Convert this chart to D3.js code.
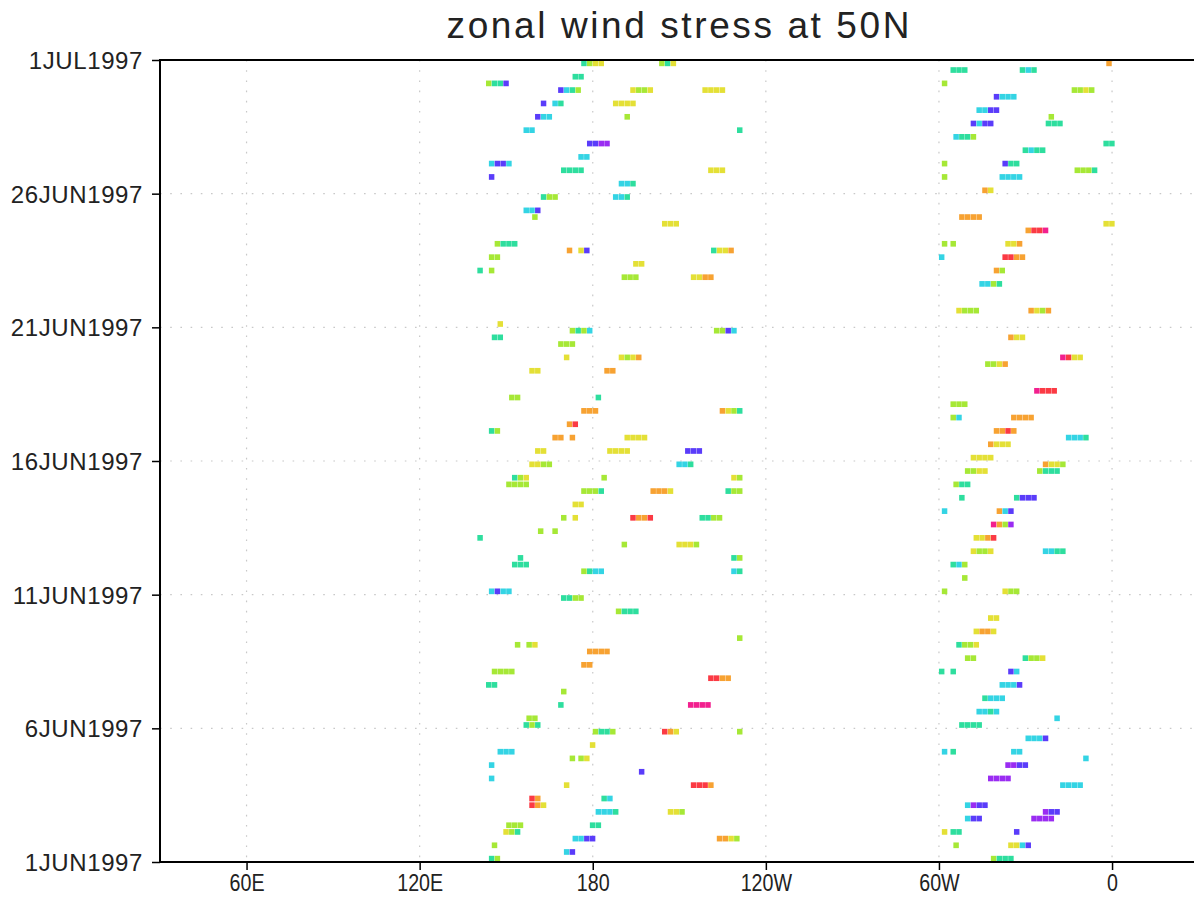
<!DOCTYPE html>
<html>
<head>
<meta charset="utf-8">
<script src="https://cdn.jsdelivr.net/npm/d3@7"></script>
<style>
  body { margin: 0; background: #fff; }
  text { font-family: "Liberation Sans", Arial, sans-serif; fill: #222; }
</style>
</head>
<body>
<svg id="chart" width="1194" height="899"></svg>
<script>
// ---- axis ticks ----
const lonTicks = [60, 120, 180, 240, 300, 360];
const lonTickLabels = ["60E", "120E", "180", "120W", "60W", "0"];
const dateTickDays = [0, 5, 10, 15, 20, 25, 30];
const dateTickLabels = ["1JUN1997", "6JUN1997", "11JUN1997", "16JUN1997", "21JUN1997", "26JUN1997", "1JUL1997"];

// ---- shading classes for zonal wind stress (N/m2) ----
const stressBreaks = [-0.12, -0.08, -0.04, 0, 0.04, 0.08, 0.12, 0.16];
const stressColors = ["#9a2cf2", "#5a3cfa", "#34d4e4", "#2ede9e", "#a6e836", "#e4e036", "#f7a232", "#fb3a44", "#f2208e"];

// ---- 6-hourly observations along 50N ----
// [step since 1JUN1997 00Z, western edge of first 2-degree box, stress of each box]
const pacificObs = [
  [119,176,[-.02,.02,.06,.06]], [117,173,[-.02,-.02]], [116,143,[.02,-.02,-.02,-.10]],
  [115,168,[-.10,-.06,-.02,.02]], [113,162,[-.10]], [113,166,[-.06,-.02]],
  [111,160,[-.10,-.06,-.06]], [109,156,[-.06,-.06]], [107,178,[-.10,-.10,-.14,-.14]],
  [105,175,[-.06,-.06]], [104,144,[-.06,-.10,-.10,-.06]], [103,169,[-.02,-.02,-.02,-.02]],
  [102,144,[-.10]], [99,162,[-.02,.02,.02]], [97,156,[-.06,-.06,-.10]], [96,159,[.02]],
  [92,146,[.02,-.02,-.02,-.02]], [91,171,[.10]], [91,175,[.06,-.10]], [90,144,[.02,.02]],
  [88,140,[-.02]], [88,144,[.02]], [80,147,[.06]],
  [119,203,[.02,-.02,.06]], [115,193,[.06,.02,.02,.06]], [115,218,[.06,.06,.06,.06]],
  [113,187,[.06,.06,.06,.06]], [111,191,[.02]], [109,230,[-.02]], [103,220,[.06,.06,.06]],
  [101,189,[-.06,-.06,-.02]], [99,187,[-.06,-.06,-.02]], [95,204,[.06,.06,.06]],
  [91,221,[-.02,.06,.06,.10]], [89,194,[.06,.06]], [87,190,[.02,.02,.02]], [87,214,[.06,.06,.10,.10]],
  [79,172,[.02,-.02,.02,-.06]], [79,222,[.02,.02,-.10,-.06]], [78,145,[-.02,-.02]],
  [77,168,[.02,.02,.02]], [75,170,[.06]], [75,189,[.06,.02,.06,.10]], [73,158,[.06,.06]],
  [73,184,[.10,.10]], [69,151,[.02,.02]], [69,181,[-.02]], [67,176,[.10,.10,.10]],
  [67,224,[.10,.06,.02,-.02]], [65,171,[.10,.14]], [64,144,[-.02,.02]], [63,166,[.10,.10]],
  [63,172,[.10]], [63,191,[.06,.06,.06,.06]], [61,160,[.06,.06]], [61,185,[.06,.06,.06,.06]],
  [61,212,[-.10,-.10,-.10]], [59,158,[.06,.06,.02,.02]], [59,209,[-.06,-.06,-.02]],
  [57,152,[-.02,.02,.06]], [57,183,[.02]], [57,228,[.06,.02]], [56,150,[.02,.02,.02,.02]],
  [55,176,[.02,.02,.02,-.02]], [55,200,[.10,.10,.10,.06]], [55,226,[-.02,.02,.02]],
  [53,173,[.06,.06]], [51,169,[.02]], [51,173,[.06]], [51,193,[.14,.10,.10,.14]],
  [51,217,[-.02,-.02,.02,.02]], [49,161,[.02]], [49,166,[.02]], [48,140,[-.02]],
  [47,190,[.02]], [47,209,[.06,.06,.06,.02]], [45,154,[-.02]], [45,228,[-.02,.02]],
  [44,152,[-.02,-.02,-.02]], [43,176,[.02,-.02,-.06,-.06]], [43,228,[-.06,-.02]],
  [40,144,[-.06,-.10,-.06,-.06]], [39,169,[-.02,-.02,.02,.02]], [37,188,[.02,-.02,-.02,-.02]],
  [33,230,[.02]], [32,153,[.02]], [32,157,[.02,.06]], [31,178,[.10,.10,.10,.10]],
  [29,176,[.10,.10]], [28,145,[.02,.02,.02,.02]], [27,220,[.14,.14,.10,.10]], [26,143,[-.02,-.02]],
  [25,169,[.02]], [23,168,[-.02]], [23,213,[.18,.18,.18,.18]], [21,157,[.02,.02]],
  [20,156,[-.02,.02,-.02]], [19,180,[.02,-.02,-.02,.02]], [19,204,[.14,.10,.06]], [19,230,[.02]],
  [17,179,[.06]], [16,147,[-.06,-.06,-.06]], [15,172,[.02]], [15,175,[.02,.06]], [14,144,[-.06]],
  [13,196,[-.10]], [12,144,[-.06]], [11,170,[.06]], [11,214,[.14,.14,.14,.10]], [9,158,[.14,.10]],
  [9,183,[-.02,-.06]], [8,158,[.14,.10,.06]], [7,181,[-.06,-.06,-.06,-.02]], [7,206,[.06,.06,.02]],
  [5,150,[.02,.02,.02]], [5,179,[-.02,-.02]], [4,149,[.06,.02,-.02]], [3,173,[-.06,-.06,-.10,-.10]],
  [3,223,[.10,.10,.06,.02]], [2,145,[.02]], [1,170,[-.06,-.10]], [0,144,[-.02,.02]]
];

const atlanticObs = [
  [119,358,[.10]], [118,304,[-.02,-.02,-.02]], [118,328,[-.02,-.06,-.02]], [116,301,[.02]],
  [115,346,[.02,.02,.06,.02]], [114,319,[-.10,-.06,-.06,-.06]], [112,313,[-.06,-.06,-.10,-.10]],
  [111,338,[.02]], [110,311,[-.10,-.06,-.10,-.10]], [110,337,[-.02,-.02,-.02]],
  [108,305,[-.06,-.02,-.02,.02]], [107,357,[-.02,-.02]], [106,329,[-.02,-.06,-.02,-.02]],
  [104,301,[.02]], [104,322,[-.10,-.02,-.02]], [103,347,[.02,.02,.02,-.02]], [102,301,[.02]],
  [102,321,[-.06,-.06,-.06,-.06]], [100,315,[.10,.06]], [96,307,[.10,.10,.10,.10]],
  [95,357,[.06,.06]], [94,330,[.10,.14,.14,.18]], [92,301,[.02]], [92,304,[.02]],
  [92,323,[.06,.06,.10]], [90,300,[-.06]], [90,322,[.14,.14,.10,.10]], [88,319,[.10,.02]],
  [86,314,[-.06,-.06,.02,-.02]], [82,306,[.06,.02,.02,.02]], [82,331,[.10,.06,.02,.10]],
  [78,324,[.10,.06,.06]], [75,342,[.18,.14,.06,.06]], [74,316,[.02,.02,.06,.10]],
  [70,333,[.18,.14,.14,.14]], [68,304,[.02,.02,.02]], [66,304,[.02,-.06]], [66,325,[.10,.10,.10,.10]],
  [64,319,[.10,.10,.14,.10]], [63,344,[-.06,-.06,-.06,-.02]], [62,317,[.10,.06,.06,.06]],
  [60,311,[.06,.06,.06,.06]], [59,336,[.10,.06,.06,.02]], [58,309,[.02,.02,.06,.06]],
  [58,334,[.02,-.02,-.02,-.02]], [56,305,[.02,-.02,-.02]], [54,307,[-.02]],
  [54,326,[-.02,-.10,-.10,-.10]], [52,301,[-.06]], [52,320,[.10,-.06,-.10]],
  [50,318,[.18,.10,.02,-.14]], [48,312,[.06,.06,.10,.14]], [46,311,[.06,.02,.02,.06]],
  [46,336,[-.06,-.06,-.02,-.02]], [44,304,[-.02,-.06,.02]], [42,308,[.02]], [40,301,[.02]],
  [40,322,[.06,.02,.02]], [36,317,[.06,.06]], [34,312,[.06,.10,.10,.06]],
  [32,306,[-.02,.02,.02,.06]], [30,309,[.02,.02]], [30,329,[-.02,.02,.02,.06]],
  [28,300,[-.02]], [28,304,[-.02]], [28,324,[-.10,-.06]], [26,321,[-.06,-.06,-.06,-.10]],
  [24,315,[-.02,-.06,-.06,-.06]], [22,313,[-.06,-.06,-.02,-.06]], [21,340,[-.06]],
  [20,307,[-.02,-.02,-.02,-.02]], [18,330,[-.06,-.06,-.06,-.10]], [16,301,[-.06]], [16,304,[-.02]],
  [16,325,[-.06,-.06]], [15,350,[-.06]], [14,323,[-.14,-.14,-.10,-.10]], [12,317,[-.14,-.14,-.14,-.14]],
  [11,342,[-.06,-.06,-.06,-.06]], [8,309,[-.06,-.14,-.10,-.10]], [7,336,[-.14,-.10,-.10]],
  [6,309,[-.06,-.10,-.10]], [6,332,[-.14,-.14,-.14,-.14]], [4,301,[.06]], [4,304,[-.02,-.02]],
  [4,326,[-.10]], [2,305,[.02]], [2,324,[.06,.06,-.06,-.10]], [0,318,[.02,-.02,-.02,-.02]]
];

// ---- layout ----
const plotLeft = 160, plotTop = 60, plotBottom = 862;
const degPx = 2.885;
const plotRight = plotLeft + 360 * degPx;   // frame runs past the window edge
const boxDeg = 2;
const stepMs = 6 * 3600 * 1000;
const t0 = Date.UTC(1997, 5, 1);

const svg = d3.select("#chart");

const x = d3.scaleLinear().domain([30, 390]).range([plotLeft, plotRight]);
const y = d3.scaleUtc().domain([new Date(t0), new Date(Date.UTC(1997, 6, 1))]).range([plotBottom, plotTop]);
const color = d3.scaleThreshold().domain(stressBreaks).range(stressColors);

const dateTicks = dateTickDays.map(d => new Date(t0 + d * 864e5));

// dotted grid
const grid = svg.append("g").attr("stroke", "#c8c8c8").attr("stroke-width", 1.2)
  .attr("stroke-dasharray", "1.6,8.6");
grid.selectAll("line.v").data(lonTicks).join("line").attr("class", "v")
  .attr("x1", d => x(d)).attr("x2", d => x(d)).attr("y1", plotTop).attr("y2", plotBottom);
grid.selectAll("line.h").data(dateTicks.slice(1, -1)).join("line").attr("class", "h")
  .attr("x1", plotLeft).attr("x2", plotRight).attr("y1", d => y(d)).attr("y2", d => y(d));

// shaded boxes
const cells = [];
for (const obs of [pacificObs, atlanticObs]) {
  for (const [step, lon0, vals] of obs) {
    vals.forEach((v, i) => cells.push({ step, lon: lon0 + i * boxDeg, v }));
  }
}
const plot = svg.append("g");
plot.selectAll("rect").data(cells).join("rect")
  .attr("x", d => x(d.lon))
  .attr("width", d => x(d.lon + boxDeg) - x(d.lon) - 0.3)
  .attr("y", d => y(new Date(t0 + (d.step + 1) * stepMs)) + 0.5)
  .attr("height", d => y(new Date(t0 + d.step * stepMs)) - y(new Date(t0 + (d.step + 1) * stepMs)) - 1)
  .attr("fill", d => color(d.v));

// frame
svg.append("rect").attr("x", plotLeft).attr("y", plotTop)
  .attr("width", plotRight - plotLeft).attr("height", plotBottom - plotTop)
  .attr("fill", "none").attr("stroke", "#000").attr("stroke-width", 2);

// axes
const yAxis = d3.axisLeft(y).tickValues(dateTicks)
  .tickFormat((d, i) => dateTickLabels[i]).tickSize(8).tickPadding(9).tickSizeOuter(0);
const gy = svg.append("g").attr("transform", `translate(${plotLeft},0)`).call(yAxis);
gy.select(".domain").remove();
gy.selectAll(".tick line").attr("stroke", "#000").attr("stroke-width", 1.5);
gy.selectAll(".tick text").attr("font-size", 24).attr("dy", "0.36em")
  .attr("letter-spacing", 0.6).attr("font-family", "Liberation Sans, Arial, sans-serif");

const xAxis = d3.axisBottom(x).tickValues(lonTicks)
  .tickFormat((d, i) => lonTickLabels[i]).tickSize(8).tickPadding(4).tickSizeOuter(0);
const gx = svg.append("g").attr("transform", `translate(0,${plotBottom})`).call(xAxis);
gx.select(".domain").remove();
gx.selectAll(".tick line").attr("stroke", "#000").attr("stroke-width", 1.5);
gx.selectAll(".tick text").attr("font-size", 24).attr("font-family", "Liberation Sans, Arial, sans-serif")
  .attr("transform", "scale(0.82,1)");

// title
svg.append("text").attr("x", (plotLeft + plotRight) / 2).attr("y", 38)
  .attr("text-anchor", "middle").attr("font-size", 37).attr("letter-spacing", 2.6)
  .text("zonal wind stress at 50N");
</script>
</body>
</html>
